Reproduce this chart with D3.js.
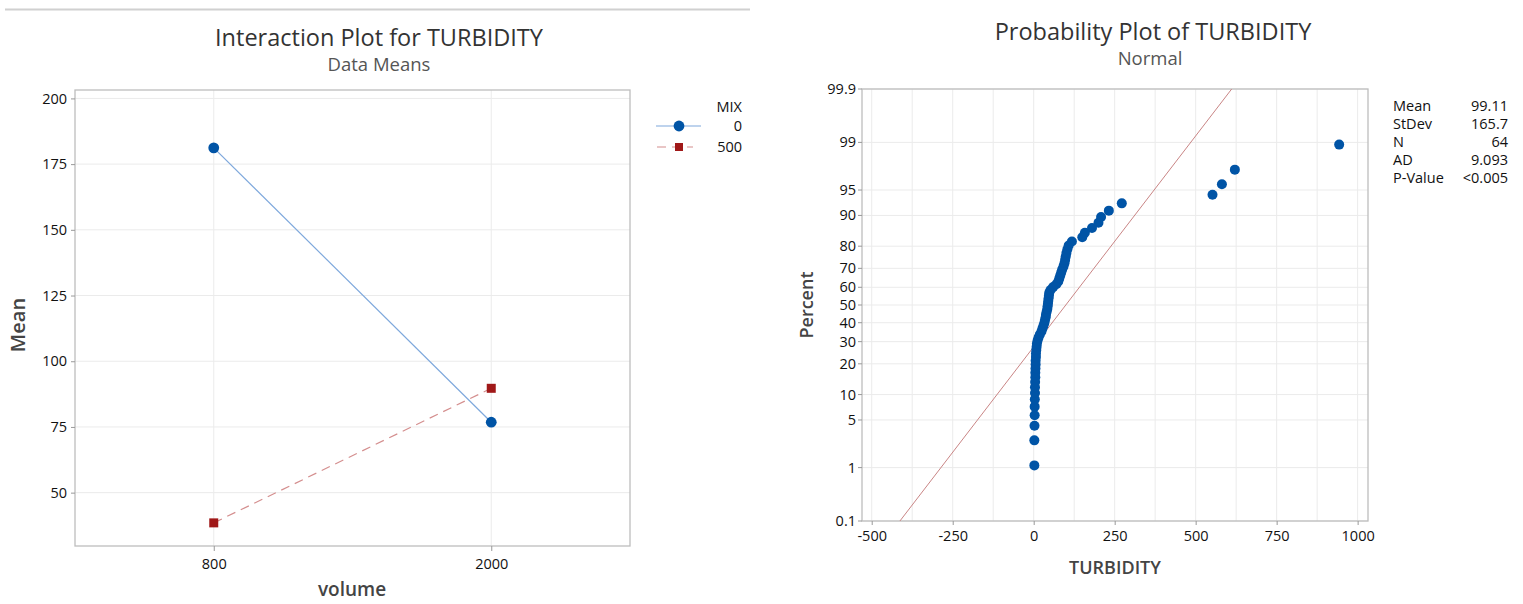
<!DOCTYPE html>
<html><head><meta charset="utf-8">
<script src="https://cdn.jsdelivr.net/npm/d3@7"></script>
<style>
body{margin:0;background:#fff}
text{font-family:"Open Sans",sans-serif}
</style>
</head><body>
<svg id="c" width="1523" height="604"></svg>
<script>
// ---------- Interaction plot data ----------
const volumeLevels = ["800", "2000"];
const mixLevels = ["0", "500"];
const meansMix0 = [181.2, 76.8];
const meansMix500 = [38.5, 89.7];
const meanTicks = [50, 75, 100, 125, 150, 175, 200];

// ---------- Probability plot data (64 observations, sorted) ----------
const turbidity = [
  2, 2, 2.5, 3, 3, 3.5, 4, 4, 4.5, 5,
  5, 5.5, 6, 6, 7, 7, 8, 9, 10, 12,
  15, 19, 24, 27, 30, 33, 35, 37, 38, 40,
  42, 43, 44, 45, 46, 47, 48, 52, 60, 70,
  76, 79, 82, 85, 88, 92, 95, 97, 99, 101,
  104, 108, 118, 150, 158, 180, 200, 208, 232, 272,
  552, 581, 621, 943
];
const percentTicks = [0.1, 1, 5, 10, 20, 30, 40, 50, 60, 70, 80, 90, 95, 99, 99.9];
const turbTicks = [-500, -250, 0, 250, 500, 750, 1000];
const turbGrid = [-500, -375, -250, -125, 0, 125, 250, 375, 500, 625, 750, 875, 1000];
const statLabels = ["Mean", "StDev", "N", "AD", "P-Value"];
const statValues = ["99.11", "165.7", "64", "9.093", "<0.005"];
const fitMean = 99.11, fitSd = 165.7;

// inverse normal CDF (Acklam)
function qnorm(p){
  const a=[-3.969683028665376e+01,2.209460984245205e+02,-2.759285104469687e+02,1.383577518672690e+02,-3.066479806614716e+01,2.506628277459239e+00];
  const b=[-5.447609879822406e+01,1.615858368580409e+02,-1.556989798598866e+02,6.680131188771972e+01,-1.328068155288572e+01];
  const c=[-7.784894002430293e-03,-3.223964580411365e-01,-2.400758277161838e+00,-2.549732539343734e+00,4.374664141464968e+00,2.938163982698783e+00];
  const d=[7.784695709041462e-03,3.224671290700398e-01,2.445134137142996e+00,3.754408661907416e+00];
  const pl=0.02425, ph=1-pl; let q,r;
  if(p<pl){q=Math.sqrt(-2*Math.log(p));return (((((c[0]*q+c[1])*q+c[2])*q+c[3])*q+c[4])*q+c[5])/((((d[0]*q+d[1])*q+d[2])*q+d[3])*q+1);}
  if(p>ph){q=Math.sqrt(-2*Math.log(1-p));return -(((((c[0]*q+c[1])*q+c[2])*q+c[3])*q+c[4])*q+c[5])/((((d[0]*q+d[1])*q+d[2])*q+d[3])*q+1);}
  q=p-0.5;r=q*q;return (((((a[0]*r+a[1])*r+a[2])*r+a[3])*r+a[4])*r+a[5])*q/(((((b[0]*r+b[1])*r+b[2])*r+b[3])*r+b[4])*r+1);
}

const svg = d3.select("#c");
const BLUE = "#0054a6", RED = "#a01818";
const GRID = "#ebebeb", FRAME = "#bdbdbd", TXT = "#111";

// top separator
svg.append("line").attr("x1",5).attr("x2",750).attr("y1",9.5).attr("y2",9.5)
  .attr("stroke","#d0d0d0").attr("stroke-width",2);

// ================= LEFT: Interaction plot =================
{
  const L=75,R=630,T=90,B=546;
  const x = d3.scalePoint().domain(volumeLevels).range([L,R]).padding(0.5);
  const y = d3.scaleLinear().domain([29.7,203.2]).range([B,T]);
  const g = svg.append("g");
  g.selectAll(".hg").data(meanTicks).join("line")
    .attr("x1",L).attr("x2",R).attr("y1",d=>y(d)).attr("y2",d=>y(d)).attr("stroke",GRID);
  g.selectAll(".vg").data(volumeLevels).join("line")
    .attr("x1",d=>x(d)).attr("x2",d=>x(d)).attr("y1",T).attr("y2",B).attr("stroke",GRID);
  g.append("rect").attr("x",L).attr("y",T).attr("width",R-L).attr("height",B-T)
    .attr("fill","none").attr("stroke",FRAME).attr("stroke-width",1.3);

  const ya = g.append("g").attr("transform",`translate(${L},0)`)
    .call(d3.axisLeft(y).tickValues(meanTicks).tickSize(4).tickPadding(4));
  const xa = g.append("g").attr("transform",`translate(0,${B})`)
    .call(d3.axisBottom(x).tickSize(5).tickPadding(8));
  [ya,xa].forEach(a=>{a.select(".domain").remove();
    a.selectAll("line").attr("stroke","#999");
    a.selectAll("text").attr("font-size",14.5).attr("fill",TXT).attr("font-family","Open Sans");});

  const line = d3.line().x((d,i)=>x(volumeLevels[i])).y(d=>y(d));
  g.append("path").datum(meansMix0).attr("d",line).attr("fill","none")
    .attr("stroke","#7ea8dc").attr("stroke-width",1.2);
  g.append("path").datum(meansMix500).attr("d",line).attr("fill","none")
    .attr("stroke","#d48e8e").attr("stroke-width",1.2).attr("stroke-dasharray","9,6");
  g.selectAll(".c0").data(meansMix0).join("circle")
    .attr("cx",(d,i)=>x(volumeLevels[i])).attr("cy",d=>y(d)).attr("r",5.4).attr("fill",BLUE);
  g.selectAll(".s5").data(meansMix500).join("rect")
    .attr("x",(d,i)=>x(volumeLevels[i])-4.5).attr("y",d=>y(d)-4.5)
    .attr("width",9).attr("height",9).attr("fill",RED);

  // titles
  svg.append("text").attr("x",379).attr("y",46).attr("text-anchor","middle")
    .attr("font-size",23.5).attr("fill","#333").text("Interaction Plot for TURBIDITY");
  svg.append("text").attr("x",379).attr("y",71).attr("text-anchor","middle")
    .attr("font-size",18.5).attr("fill","#555").text("Data Means");
  svg.append("text").attr("transform","translate(25,325) rotate(-90)").attr("text-anchor","middle")
    .attr("font-size",20).attr("font-weight",600).attr("fill","#444").text("Mean");
  svg.append("text").attr("x",352).attr("y",596).attr("text-anchor","middle")
    .attr("font-size",19).attr("font-weight",600).attr("fill","#444").text("volume");

  // legend
  const lg = svg.append("g");
  lg.append("text").attr("x",742).attr("y",112).attr("text-anchor","end")
    .attr("font-size",14.5).attr("fill",TXT).text("MIX");
  const ly = [126,147];
  mixLevels.forEach((m,i)=>{
    lg.append("text").attr("x",742).attr("y",ly[i]+5).attr("text-anchor","end")
      .attr("font-size",14.5).attr("fill",TXT).text(m);
  });
  lg.append("line").attr("x1",656).attr("x2",701).attr("y1",ly[0]).attr("y2",ly[0])
    .attr("stroke","#7ea8dc").attr("stroke-width",1.2);
  lg.append("circle").attr("cx",679).attr("cy",ly[0]).attr("r",5.4).attr("fill",BLUE);
  lg.append("line").attr("x1",657).attr("x2",693).attr("y1",ly[1]).attr("y2",ly[1])
    .attr("stroke","#d48e8e").attr("stroke-width",1.2).attr("stroke-dasharray","9,6");
  lg.append("rect").attr("x",675).attr("y",ly[1]-4).attr("width",8).attr("height",8).attr("fill",RED);
}

// ================= RIGHT: Probability plot =================
{
  const L=862,R=1368,T=89,B=521;
  const x = d3.scaleLinear().domain([-530,1032]).range([L,R]);
  const zmax = -qnorm(0.001);
  const yz = d3.scaleLinear().domain([-zmax,zmax]).range([B,T]);
  const yp = p => yz(qnorm(p/100));
  const g = svg.append("g");
  const defs = svg.append("defs");
  defs.append("clipPath").attr("id","pclip").append("rect")
    .attr("x",L).attr("y",T).attr("width",R-L).attr("height",B-T);

  g.selectAll(".vg").data(turbGrid).join("line")
    .attr("x1",d=>x(d)).attr("x2",d=>x(d)).attr("y1",T).attr("y2",B).attr("stroke",GRID);
  g.selectAll(".hg").data(percentTicks).join("line")
    .attr("x1",L).attr("x2",R).attr("y1",d=>yp(d)).attr("y2",d=>yp(d)).attr("stroke",GRID);
  g.append("rect").attr("x",L).attr("y",T).attr("width",R-L).attr("height",B-T)
    .attr("fill","none").attr("stroke",FRAME).attr("stroke-width",1.3);

  // y axis
  const yg = g.append("g");
  yg.selectAll("line").data(percentTicks).join("line")
    .attr("x1",L-4).attr("x2",L).attr("y1",d=>yp(d)).attr("y2",d=>yp(d)).attr("stroke","#999");
  yg.selectAll("text").data(percentTicks).join("text")
    .attr("x",L-6).attr("y",d=>yp(d)+5).attr("text-anchor","end")
    .attr("font-size",14.5).attr("fill",TXT).text(d=>d);
  const xa = g.append("g").attr("transform",`translate(0,${B})`)
    .call(d3.axisBottom(x).tickValues(turbTicks).tickSize(4).tickPadding(6).tickFormat(d=>d));
  xa.select(".domain").remove();
  xa.selectAll("line").attr("stroke","#999");
  xa.selectAll("text").attr("font-size",14.5).attr("fill",TXT).attr("font-family","Open Sans");

  // fitted line
  const pEnds = [0.1, 99.9];
  g.append("path").attr("clip-path","url(#pclip)")
    .datum(pEnds).attr("d",d3.line().x(p=>x(fitMean+fitSd*qnorm(p/100))).y(p=>yp(p)))
    .attr("stroke","#c98585").attr("stroke-width",1).attr("fill","none");

  // points
  const n = turbidity.length;
  const sorted = turbidity.slice().sort((a,b)=>a-b);
  g.selectAll(".pt").data(sorted).join("circle")
    .attr("cx",d=>x(d)).attr("cy",(d,i)=>yp(100*(i+1-0.3)/(n+0.4)))
    .attr("r",5).attr("fill",BLUE);

  svg.append("text").attr("x",1153).attr("y",40).attr("text-anchor","middle")
    .attr("font-size",23.5).attr("fill","#333").text("Probability Plot of TURBIDITY");
  svg.append("text").attr("x",1150).attr("y",65).attr("text-anchor","middle")
    .attr("font-size",18.5).attr("fill","#555").text("Normal");
  svg.append("text").attr("transform","translate(813,305) rotate(-90)").attr("text-anchor","middle")
    .attr("font-size",18).attr("font-weight",600).attr("fill","#444").text("Percent");
  svg.append("text").attr("x",1115).attr("y",574).attr("text-anchor","middle")
    .attr("font-size",18).attr("font-weight",600).attr("fill","#444").text("TURBIDITY");

  // stats
  const sg = svg.append("g");
  sg.selectAll(".sl").data(statLabels).join("text")
    .attr("x",1393).attr("y",(d,i)=>111+i*18).attr("font-size",14.5).attr("fill",TXT).text(d=>d);
  sg.selectAll(".sv").data(statValues).join("text")
    .attr("x",1508).attr("y",(d,i)=>111+i*18).attr("text-anchor","end")
    .attr("font-size",14.5).attr("fill",TXT).text(d=>d);
}
</script>
</body></html>
